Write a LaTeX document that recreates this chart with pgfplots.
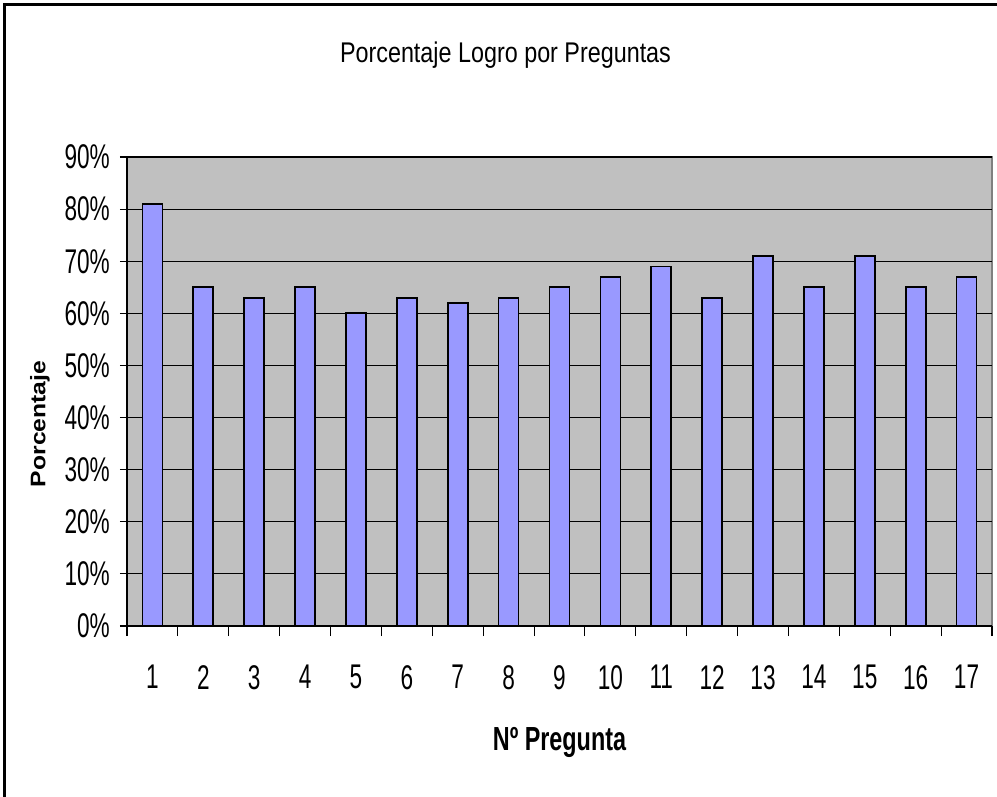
\documentclass[border=0pt]{standalone}
\usepackage{fontspec}
\setmainfont{Liberation Sans}
\newfontfamily\tickfont{Liberation Sans}[FakeStretch=0.66]
\newfontfamily\titlefont{Liberation Sans}[FakeStretch=0.82]
\newfontfamily\xlabfont{Liberation Sans}[FakeStretch=0.70]
\newfontfamily\ylabfont{Liberation Sans}[FakeStretch=1.17]
\usepackage{pgfplots}
\usepackage{pgfplotstable}
\pgfplotsset{compat=1.18}
\definecolor{barblue}{HTML}{9999FF}
\definecolor{plotgray}{HTML}{C0C0C0}
\definecolor{bordergray}{HTML}{808080}
\pgfplotstableread{
x y
1 81
2 65
3 63
4 65
5 60
6 63
7 62
8 63
9 65
10 67
11 69
12 63
13 71
14 65
15 71
16 65
17 67
}\datatable
\begin{document}
\begin{tikzpicture}
\useasboundingbox (0,0) rectangle (19.94,-15.94);
\draw[line width=0.06cm] (0.09,-15.94) -- (0.09,-0.1) -- (19.94,-0.1);
\begin{axis}[
  at={(2.54cm,-12.52cm)}, anchor=south west,
  scale only axis, width=17.3cm, height=9.38cm,
  xmin=0.5, xmax=17.5, ymin=0, ymax=90,
  axis background/.style={fill=plotgray, draw=bordergray, line width=0.8pt},
  axis x line*=bottom, axis y line*=left,
  axis line style={black, line width=0.6pt, -},
  xtick={1,...,17},
  xticklabels={1,2,3,4,5,6,7,8,9,10,11,12,13,14,15,16,17},
  minor xtick={0.5,1.5,...,17.5},
  major x tick style={draw=none},
  minor x tick style={black, line width=0.6pt},
  minor tick length=0.2cm,
  ytick={0,10,...,90},
  yticklabels={0\%,10\%,20\%,30\%,40\%,50\%,60\%,70\%,80\%,90\%},
  major tick length=0.14cm,
  tick align=outside,
  ytick style={black, line width=0.6pt},
  ymajorgrids, major grid style={black, line width=0.6pt},
  tick label style={font=\tickfont\fontsize{19.5}{19.5}\selectfont},
  xticklabel style={yshift=-0.52cm},
  yticklabel style={xshift=-0.08cm},
]
\addplot[ybar, bar width=0.4cm, fill=barblue, draw=black, line width=1pt] table[x=x,y=y] {\datatable};
\end{axis}
\node[anchor=base] at (10.11,-1.26) {\titlefont\fontsize{16.2}{16.2}\selectfont Porcentaje Logro por Preguntas};
\node[anchor=base] at (11.19,-15.0) {\xlabfont\bfseries\fontsize{19}{19}\selectfont Nº Pregunta};
\node[rotate=90] at (0.8,-8.48) {\ylabfont\bfseries\fontsize{12}{12}\selectfont Porcentaje};
\end{tikzpicture}
\end{document}
